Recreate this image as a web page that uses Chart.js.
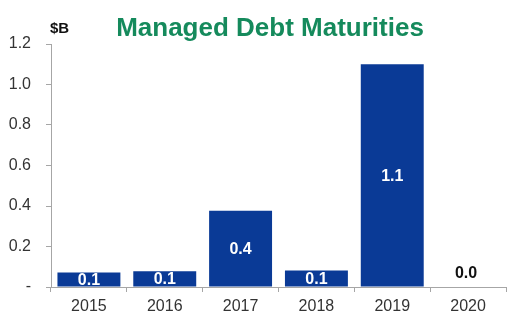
<!DOCTYPE html>
<html>
<head>
<meta charset="utf-8">
<script src="https://cdn.jsdelivr.net/npm/chart.js@4/dist/chart.umd.min.js"></script>
<style>
  html, body { margin: 0; padding: 0; background: #fff; }
  #wrap { width: 510px; height: 323px; position: relative; }
</style>
</head>
<body>
<div id="wrap"><canvas id="c" width="510" height="323"></canvas></div>
<script>
const categories = ['2015', '2016', '2017', '2018', '2019', '2020'];
const maturities = [0.072, 0.078, 0.377, 0.082, 1.10, 0.0];
const valueLabels = ['0.1', '0.1', '0.4', '0.1', '1.1', '0.0'];
const yTicks = [0, 0.2, 0.4, 0.6, 0.8, 1.0, 1.2];
const chartTitle = 'Managed Debt Maturities';
const unitLabel = '$B';

const FONT = '"Liberation Sans", Arial, sans-serif';
const AXIS = '#a6a6a6';
const TEXT = '#333333';

const labelPlugin = {
  id: 'labels',
  afterDatasetsDraw(chart) {
    const ctx = chart.ctx;
    const meta = chart.getDatasetMeta(0);
    const y = chart.scales.y;
    ctx.save();
    ctx.font = 'bold 16px ' + FONT;
    ctx.textAlign = 'center';
    ctx.textBaseline = 'middle';
    meta.data.forEach((bar, i) => {
      const v = maturities[i];
      const top = y.getPixelForValue(v);
      const base = y.getPixelForValue(0);
      if (base - top > 10) {
        ctx.fillStyle = '#ffffff';
        ctx.fillText(valueLabels[i], bar.x, (top + base) / 2 + 0.5);
      } else {
        ctx.fillStyle = '#111111';
        ctx.fillText(valueLabels[i], bar.x - 2, base - 13);
      }
    });
    ctx.restore();
  }
};

const titlePlugin = {
  id: 'titles',
  afterDraw(chart) {
    const ctx = chart.ctx;
    ctx.save();
    ctx.textBaseline = 'alphabetic';
    ctx.textAlign = 'center';
    ctx.font = 'bold 26px ' + FONT;
    ctx.fillStyle = '#158a5c';
    ctx.fillText(chartTitle, 270, 36);
    ctx.textAlign = 'left';
    ctx.font = 'bold 15px ' + FONT;
    ctx.fillStyle = '#111111';
    ctx.fillText(unitLabel, 50, 33);
    ctx.restore();
  }
};

new Chart(document.getElementById('c'), {
  type: 'bar',
  data: {
    labels: categories,
    datasets: [{
      data: maturities,
      backgroundColor: '#0a3a96',
      borderWidth: 0,
      barPercentage: 0.83,
      categoryPercentage: 1.0
    }]
  },
  options: {
    responsive: false,
    animation: false,
    devicePixelRatio: 1,
    layout: { padding: { top: 44, right: 4, bottom: 0, left: 0 } },
    plugins: { legend: { display: false }, title: { display: false }, tooltip: { enabled: false } },
    scales: {
      x: {
        afterFit(s) { s.height = 36; },
        border: { color: AXIS, width: 1 },
        grid: { display: true, drawOnChartArea: false, drawTicks: true, tickLength: 5, color: AXIS, offset: true },
        ticks: { color: TEXT, font: { family: FONT, size: 16 }, padding: 5, maxRotation: 0 }
      },
      y: {
        min: 0, max: 1.2,
        afterFit(s) { s.width = 51; },
        afterBuildTicks(s) { s.ticks = yTicks.map(v => ({ value: v })); },
        border: { color: AXIS, width: 1 },
        grid: { display: true, drawOnChartArea: false, drawTicks: true, tickLength: 5, color: AXIS },
        ticks: {
          color: TEXT,
          font: { family: FONT, size: 16 },
          padding: 15,
          callback: v => (v === 0 ? '-' : Number(v).toFixed(1))
        }
      }
    }
  },
  plugins: [labelPlugin, titlePlugin]
});
</script>
</body>
</html>
